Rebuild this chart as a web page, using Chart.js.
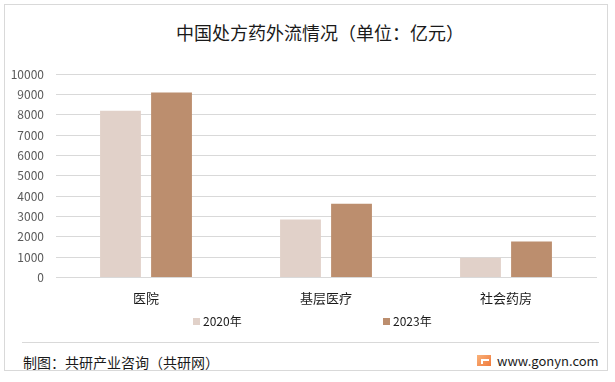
<!DOCTYPE html>
<html lang="zh">
<head>
<meta charset="UTF-8">
<title>中国处方药外流情况</title>
<script src="https://cdn.jsdelivr.net/npm/chart.js"></script>
<style>
    html, body {
        margin: 0;
        padding: 0;
        background: #ffffff;
        font-family: "Noto Sans CJK SC", "Noto Sans", sans-serif;
    }
    .frame {
        position: absolute;
        left: 4px;
        top: 4px;
        width: 604px;
        height: 367px;
        border: 1px solid #d9d9d9;
        box-sizing: border-box;
    }
    .title {
        position: absolute;
        left: 0;
        width: 640px;
        top: 20px;
        text-align: center;
        font-size: 18px;
        line-height: 24px;
        color: #1a1a1a;
    }
    .chart-box {
        position: absolute;
        left: 5px;
        top: 55px;
        width: 604px;
        height: 264px;
    }
    .legend {
        position: absolute;
        top: 312px;
        font-size: 12px;
        line-height: 18px;
        color: #1a1a1a;
    }
    .legend i {
        display: inline-block;
        width: 7px;
        height: 7px;
        margin-right: 3px;
        vertical-align: 1px;
    }
    .sep {
        position: absolute;
        left: 22px;
        width: 577px;
        top: 342px;
        height: 1px;
        background: #d9d9d9;
    }
    .source {
        position: absolute;
        left: 23px;
        top: 351px;
        font-size: 14px;
        line-height: 22px;
        color: #1a1a1a;
    }
    .site {
        position: absolute;
        left: 497px;
        top: 351px;
        font-size: 13px;
        line-height: 20px;
        color: #1a1a1a;
    }
    .logo {
        position: absolute;
        left: 477px;
        top: 355px;
        width: 14px;
        height: 11px;
        background: linear-gradient(135deg, #f9b27a, #f07a3c);
    }
    .logo:after {
        content: "";
        position: absolute;
        left: 4px;
        top: 4px;
        width: 6px;
        height: 3px;
        border-left: 2px solid #ffffff;
        border-top: 2px solid #ffffff;
    }
</style>
</head>
<body>
<div class="frame"></div>
<div class="title">中国处方药外流情况（单位：亿元）</div>
<div class="chart-box"><canvas id="rxChart"></canvas></div>
<div class="legend" style="left:193px"><i style="background:#e1d1c9"></i>2020年</div>
<div class="legend" style="left:383px"><i style="background:#bc8e6e"></i>2023年</div>
<div class="sep"></div>
<div class="source">制图：共研产业咨询（共研网）</div>
<div class="logo"></div>
<div class="site">www.gonyn.com</div>

<script>
    // data (亿元)
    const categories = ['医院', '基层医疗', '社会药房'];
    const series2020 = [8200, 2850, 970];
    const series2023 = [9100, 3630, 1770];
    const yTicks = [0, 1000, 2000, 3000, 4000, 5000, 6000, 7000, 8000, 9000, 10000];

    const ctx = document.getElementById('rxChart').getContext('2d');
    new Chart(ctx, {
        type: 'bar',
        data: {
            labels: categories,
            datasets: [
                {
                    label: '2020年',
                    data: series2020,
                    backgroundColor: '#e1d1c9',
                    barPercentage: 0.8,
                    categoryPercentage: 0.567
                },
                {
                    label: '2023年',
                    data: series2023,
                    backgroundColor: '#bc8e6e',
                    barPercentage: 0.8,
                    categoryPercentage: 0.567
                }
            ]
        },
        options: {
            responsive: true,
            maintainAspectRatio: false,
            animation: false,
            layout: { padding: { left: 0, right: 13, top: 8, bottom: 0 } },
            plugins: {
                legend: { display: false },
                tooltip: { enabled: false }
            },
            scales: {
                x: {
                    grid: { display: false, drawTicks: false },
                    border: { color: '#d9d9d9' },
                    ticks: {
                        color: '#1a1a1a',
                        padding: 13,
                        font: { size: 13, family: '"Noto Sans CJK SC", sans-serif' }
                    }
                },
                y: {
                    min: 0,
                    max: 10000,
                    afterFit: function (scale) { scale.width = 51; },
                    afterBuildTicks: function (scale) {
                        scale.ticks = yTicks.map(v => ({ value: v }));
                    },
                    grid: { color: '#d9d9d9', drawTicks: false },
                    border: { display: false },
                    ticks: {
                        color: '#595959',
                        padding: 12,
                        font: { size: 12, family: '"Noto Sans CJK SC", sans-serif' },
                        callback: function (value) { return String(value); }
                    }
                }
            }
        }
    });
</script>
</body>
</html>
